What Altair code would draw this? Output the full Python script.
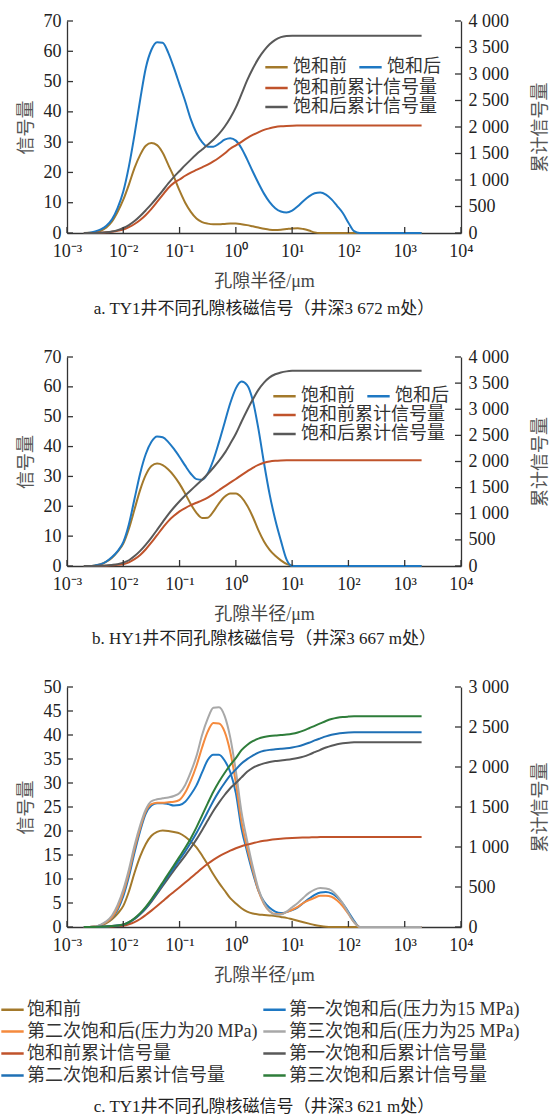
import altair as alt
import pandas as pd

# log10 of pore radius (μm) at which curves are read
LX = [-2.7, -2.6, -2.5, -2.4, -2.3, -2.2, -2.1, -2.0, -1.9, -1.8,
      -1.7, -1.6, -1.5, -1.4, -1.3, -1.2, -1.1, -1.0, -0.9, -0.8,
      -0.7, -0.6, -0.5, -0.4, -0.3, -0.2, -0.1, 0.0, 0.1, 0.2,
      0.3, 0.4, 0.5, 0.6, 0.7, 0.8, 0.9, 1.0, 1.1, 1.2,
      1.3, 1.4, 1.5, 1.6, 1.7, 1.8, 1.9, 2.0, 2.1, 2.2,
      2.3, 2.4, 3.3]

# ---- panel a ----
A_PRE = [0, 0.05, 0.2, 0.7, 1.8, 3.8, 7.0, 11.0, 16.0, 21.5,
         25.8, 28.8, 29.7, 29.0, 26.5, 22.5, 18.5, 14.0, 10.0, 7.0,
         4.8, 3.6, 3.1, 2.9, 2.9, 3.0, 3.1, 3.1, 2.9, 2.6,
         2.2, 1.8, 1.4, 1.1, 1.0, 1.1, 1.3, 1.5, 1.6, 1.3,
         0.8, 0.2, 0, 0, 0, 0, 0, 0, 0, 0,
         0, 0, 0]
A_POST = [0, 0.1, 0.5, 1.2, 2.4, 4.5, 8.3, 13.7, 22.0, 32.5,
          44.0, 54.5, 60.5, 63.0, 62.8, 59.5, 54.5, 49.0, 43.5, 37.5,
          33.0, 30.0, 28.5, 28.5, 29.5, 30.8, 31.3, 30.5, 28.0, 24.3,
          20.3, 16.5, 13.0, 10.2, 8.2, 7.1, 6.8, 7.4, 8.8, 10.6,
          12.1, 13.1, 13.4, 12.7, 11.1, 8.9, 6.6, 3.4, 0.6, 0,
          0, 0, 0]
A_PRE_CUM = [0, 0, 2, 5, 12, 25, 42, 65, 110, 170,
             245, 340, 455, 585, 720, 850, 945, 1010, 1080, 1140,
             1190, 1240, 1290, 1350, 1420, 1500, 1590, 1655, 1720, 1790,
             1850, 1900, 1945, 1975, 1998, 2012, 2020, 2025, 2027, 2028,
             2028, 2028, 2028, 2028, 2028, 2028, 2028, 2028, 2028, 2028,
             2028, 2028, 2028]
A_POST_CUM = [0, 0, 2, 6, 14, 30, 55, 95, 150, 225,
              320, 430, 545, 670, 800, 935, 1060, 1170, 1280, 1385,
              1485, 1575, 1665, 1760, 1870, 2005, 2170, 2370, 2620, 2880,
              3100, 3290, 3440, 3560, 3645, 3695, 3718, 3724, 3724, 3724,
              3724, 3724, 3724, 3724, 3724, 3724, 3724, 3724, 3724, 3724,
              3724, 3724, 3724]

# ---- panel b ----
B_PRE = [0, 0, 0.2, 0.6, 1.5, 2.8, 4.8, 7.5, 12.5, 19.0,
         25.5, 30.5, 33.5, 34.3, 33.8, 32.3, 30.2, 27.5, 24.2, 20.7,
         17.8, 16.1, 16.2, 18.2, 21.0, 23.2, 24.3, 24.3, 23.0, 20.3,
         16.5, 12.0, 8.2, 5.4, 3.4, 1.9, 0.7, 0.1, 0, 0,
         0, 0, 0, 0, 0, 0, 0, 0, 0, 0,
         0, 0, 0]
B_POST = [0, 0, 0.2, 0.6, 1.5, 3.0, 5.0, 8.0, 14.0, 22.5,
          31.0, 37.5, 41.6, 43.4, 43.1, 41.5, 39.2, 36.5, 33.6, 30.9,
          29.1, 28.9, 31.0, 35.5, 41.5, 48.0, 54.5, 59.5, 61.8, 60.6,
          55.5, 46.0, 34.5, 24.0, 15.5, 8.5, 2.2, 0, 0, 0,
          0, 0, 0, 0, 0, 0, 0, 0, 0, 0,
          0, 0, 0]
B_PRE_CUM = [0, 0, 1, 3, 7, 14, 22, 35, 70, 130,
             210, 320, 450, 590, 730, 860, 960, 1045, 1110, 1165,
             1210, 1255, 1310, 1375, 1450, 1525, 1595, 1665, 1740, 1812,
             1880, 1935, 1975, 2000, 2013, 2020, 2024, 2026, 2026, 2026,
             2026, 2026, 2026, 2026, 2026, 2026, 2026, 2026, 2026, 2026,
             2026, 2026, 2026]
B_POST_CUM = [0, 0, 1, 4, 10, 20, 35, 64, 110, 190,
              290, 410, 545, 690, 840, 990, 1120, 1240, 1350, 1450,
              1550, 1650, 1760, 1880, 2010, 2160, 2340, 2530, 2760, 2980,
              3185, 3370, 3510, 3610, 3670, 3705, 3725, 3735, 3738, 3738,
              3738, 3738, 3738, 3738, 3738, 3738, 3738, 3738, 3738, 3738,
              3738, 3738, 3738]

# ---- panel c ----
C_PRE = [0, 0, 0.1, 0.3, 0.8, 1.6, 2.8, 4.4, 7.4, 11.3,
         14.7, 17.3, 19.0, 19.8, 20.1, 20.0, 19.8, 19.5, 18.8, 17.8,
         16.6, 14.9, 13.0, 11.0, 9.2, 7.6, 6.0, 4.9, 3.9, 3.2,
         2.8, 2.6, 2.5, 2.4, 2.3, 2.1, 1.9, 1.6, 1.3, 1.0,
         0.7, 0.4, 0.2, 0.05, 0, 0, 0, 0, 0, 0,
         0, 0, 0]
C_P15 = [0, 0, 0.1, 0.4, 1.0, 1.9, 3.6, 6.4, 10.5, 15.5,
         20.0, 23.6, 25.3, 25.8, 25.8, 25.6, 25.3, 25.4, 26.1, 27.6,
         29.5, 32.2, 34.8, 35.9, 35.9, 34.7, 32.3, 27.9, 20.5, 15.7,
         11.3, 7.6, 5.3, 4.0, 3.2, 2.9, 3.1, 3.5, 4.1, 5.0,
         5.9, 6.7, 7.2, 7.3, 7.0, 6.2, 4.9, 3.1, 1.3, 0,
         0, 0, 0]
C_P20 = [0, 0, 0.1, 0.4, 1.0, 2.0, 4.0, 7.1, 11.3, 16.3,
         20.6, 24.1, 25.6, 25.9, 25.9, 26.0, 26.1, 26.5, 28.0, 30.5,
         33.6, 37.4, 40.7, 42.5, 42.4, 40.7, 36.5, 30.0, 22.0, 16.5,
         11.9, 7.6, 4.8, 3.3, 2.7, 2.7, 3.1, 3.6, 4.2, 5.0,
         5.6, 6.1, 6.5, 6.5, 6.3, 5.5, 4.3, 2.7, 1.0, 0,
         0, 0, 0]
C_P25 = [0, 0, 0.1, 0.5, 1.2, 2.4, 4.6, 7.8, 12.0, 17.0,
         21.2, 24.5, 26.2, 26.6, 26.8, 27.0, 27.3, 27.9, 29.6, 32.3,
         35.6, 40.0, 43.4, 45.7, 45.8, 44.0, 39.5, 32.5, 24.0, 18.0,
         12.6, 8.0, 5.0, 3.3, 2.6, 2.6, 3.2, 4.1, 5.0, 6.1,
         7.1, 7.8, 8.1, 8.0, 7.6, 6.5, 4.9, 2.9, 1.0, 0,
         0, 0, 0]
C_PRE_CUM = [0, 0, 0, 1, 3, 6, 11, 17, 35, 62,
             100, 150, 205, 262, 322, 383, 440, 497, 555, 615,
             675, 735, 790, 840, 882, 920, 955, 985, 1010, 1030,
             1048, 1064, 1077, 1088, 1097, 1104, 1109, 1113, 1116, 1118,
             1120, 1122, 1124, 1125, 1125, 1125, 1125, 1125, 1125, 1125,
             1125, 1125, 1125]
C_P15_CUM = [0, 0, 1, 3, 6, 11, 18, 29, 58, 100,
             158, 230, 318, 415, 515, 612, 708, 800, 893, 990,
             1095, 1210, 1330, 1450, 1555, 1650, 1735, 1800, 1870, 1940,
             1990, 2022, 2045, 2062, 2074, 2082, 2090, 2100, 2113, 2130,
             2155, 2185, 2215, 2243, 2266, 2284, 2296, 2304, 2308, 2310,
             2310, 2310, 2310]
C_P20_CUM = [0, 0, 1, 3, 6, 12, 20, 30, 60, 105,
             165, 240, 333, 433, 537, 640, 742, 843, 945, 1055,
             1175, 1305, 1440, 1575, 1695, 1800, 1895, 1970, 2045, 2098,
             2142, 2180, 2202, 2214, 2221, 2227, 2234, 2244, 2258, 2278,
             2303, 2332, 2358, 2383, 2403, 2417, 2426, 2431, 2433, 2433,
             2433, 2433, 2433]
C_P25_CUM = [0, 0, 1, 3, 6, 12, 20, 31, 62, 110,
             173, 252, 346, 450, 557, 665, 772, 880, 990, 1110,
             1245, 1395, 1545, 1690, 1815, 1925, 2025, 2110, 2210, 2275,
             2322, 2354, 2374, 2387, 2395, 2400, 2406, 2416, 2432, 2455,
             2484, 2515, 2545, 2575, 2599, 2615, 2625, 2630, 2633, 2633,
             2633, 2633, 2633]

X_TICKS = [0.001, 0.01, 0.1, 1, 10, 100, 1000, 10000]

AB_SIG_NAMES = ["饱和前", "饱和后"]
AB_CUM_NAMES = ["饱和前累计信号量", "饱和后累计信号量"]
AB_SIG_COLORS = ["#A3792B", "#1E78C3"]
AB_CUM_COLORS = ["#C0532B", "#595959"]

C_NAMES = ["饱和前", "第一次饱和后(压力为15 MPa)", "第二次饱和后(压力为20 MPa)",
           "第三次饱和后(压力为25 MPa)", "饱和前累计信号量", "第一次饱和后累计信号量",
           "第二次饱和后累计信号量", "第三次饱和后累计信号量"]
C_COLORS = ["#A3792B", "#1E78C3", "#F58A3D", "#A8A8A8",
            "#C0532B", "#595959", "#1F70B5", "#2E7D3A"]
# legend fills column by column: this order shows the entries row by row
C_LEGEND_ORDER = [0, 2, 4, 6, 1, 3, 5, 7]

FONT = "Liberation Serif, Noto Sans CJK SC"
TXT = "#222222"
TTL = "#555555"
AXC = "#333333"
W = 394

XLABEL = ("'10' + (datum.value < 1 ? '⁻' : '') + "
          "['⁰','¹','²','³','⁴'][abs(round(log(datum.value)/LN10))]")


def xscale():
    return alt.Scale(type="log", domain=[0.001, 10000], nice=False)


def long_df(names, series):
    rows = []
    for name, vals in zip(names, series):
        for e, v in zip(LX, vals):
            rows.append({"r": 10 ** e, "s": name, "v": v})
    return pd.DataFrame(rows)


def legend(x, y, direction="vertical", columns=None, size=18, rowpad=0, colpad=12,
           offset=4):
    kw = dict(orient="none", legendX=x, legendY=y, direction=direction,
              symbolType="stroke", symbolSize=500, symbolStrokeWidth=2.5,
              labelFont=FONT, labelFontSize=size, labelColor="#333333",
              labelOffset=offset, labelLimit=500, rowPadding=rowpad,
              columnPadding=colpad, padding=0)
    if columns:
        kw["columns"] = columns
    return alt.Legend(**kw)


def x_axis():
    return alt.Axis(values=X_TICKS, labelExpr=XLABEL, title="孔隙半径/μm",
                    ticks=False, grid=False, domainColor=AXC, domainWidth=1.3,
                    labelFont=FONT, labelFontSize=18, labelColor=TXT,
                    labelPadding=9, labelFlush=False, labelOverlap=False,
                    titleFont=FONT, titleFontSize=18, titleFontWeight="normal",
                    titleColor="#444444", titlePadding=12)


def left_axis(ymax, ystep):
    return alt.Axis(values=list(range(0, ymax + 1, ystep)), ticks=False, grid=False,
                    domainColor=AXC, domainWidth=1.3, labelFont=FONT,
                    labelFontSize=18, labelColor=TXT, labelPadding=6,
                    labelFlush=False, title="信号量", titleFont=FONT,
                    titleFontSize=18, titleFontWeight="normal", titleColor=TTL,
                    titlePadding=8)


def right_axis(y2max):
    return alt.Axis(orient="right", values=list(range(0, y2max + 1, 500)),
                    labelExpr="replace(format(datum.value, ','), ',', ' ')",
                    ticks=False, grid=False, domainColor=AXC, domainWidth=1.3,
                    labelFont=FONT, labelFontSize=18, labelColor=TXT,
                    labelPadding=7, labelFlush=False, title="累计信号量",
                    titleAngle=270, titleBaseline="top", titleFont=FONT,
                    titleFontSize=18, titleFontWeight="normal",
                    titleColor=TTL, titlePadding=23)


def lines(df, dom, rng, leg, ymax, xaxis, yaxis):
    xenc = alt.X("r:Q", scale=xscale(), axis=xaxis) if xaxis is not None else \
        alt.X("r:Q", scale=xscale())
    return alt.Chart(df).mark_line(strokeWidth=2, interpolate="monotone").encode(
        x=xenc,
        y=alt.Y("v:Q", scale=alt.Scale(domain=[0, ymax], nice=False), axis=yaxis),
        color=alt.Color("s:N", scale=alt.Scale(domain=dom, range=rng),
                        legend=leg, sort=dom, title=None),
    )


def tick_layers(H, ymax, ystep, y2max):
    xt = alt.Chart(pd.DataFrame({"t": X_TICKS})).mark_rule(color=AXC, strokeWidth=1.3).encode(
        x=alt.X("t:Q", scale=xscale()), y=alt.value(H), y2=alt.value(H - 6))
    ylt = alt.Chart(pd.DataFrame({"t": list(range(0, ymax + 1, ystep))})).mark_rule(
        color=AXC, strokeWidth=1.3).encode(
        y=alt.Y("t:Q", scale=alt.Scale(domain=[0, ymax], nice=False), axis=None),
        x=alt.value(0), x2=alt.value(6))
    yrt = alt.Chart(pd.DataFrame({"t": list(range(0, y2max + 1, 500))})).mark_rule(
        color=AXC, strokeWidth=1.3).encode(
        y=alt.Y("t:Q", scale=alt.Scale(domain=[0, y2max], nice=False), axis=None),
        x=alt.value(W - 6), x2=alt.value(W))
    return [xt, ylt, yrt]


def caption(text, offset):
    return alt.TitleParams(text=text, orient="bottom", anchor="middle",
                           frame="group", font=FONT, fontSize=17,
                           fontWeight="normal", color=TXT, offset=offset)


def panel_ab(H, pre, post, pre_cum, post_cum, lx, ly, cap, cap_off):
    # ly: legend top offsets of the three legend rows
    sig = lines(long_df(AB_SIG_NAMES, [pre, post]), AB_SIG_NAMES, AB_SIG_COLORS,
                legend(lx, ly[0], "horizontal", colpad=7), 70,
                x_axis(), left_axis(70, 10))
    c1 = lines(long_df(AB_CUM_NAMES[:1], [pre_cum]), AB_CUM_NAMES[:1], AB_CUM_COLORS[:1],
               legend(lx, ly[1]), 4000, None, right_axis(4000))
    c2 = lines(long_df(AB_CUM_NAMES[1:], [post_cum]), AB_CUM_NAMES[1:], AB_CUM_COLORS[1:],
               legend(lx, ly[2]), 4000, None, None)
    return alt.layer(sig, c1, c2, *tick_layers(H, 70, 10, 4000)).resolve_scale(
        y="independent", color="independent").properties(
        width=W, height=H, title=caption(cap, cap_off))


pa = panel_ab(212, A_PRE, A_POST, A_PRE_CUM, A_POST_CUM, 197, [33.5, 54.5, 73.5],
              "a. TY1井不同孔隙核磁信号（井深3 672 m处）", 11)
pb = panel_ab(209, B_PRE, B_POST, B_PRE_CUM, B_POST_CUM, 205, [26.5, 45.5, 64.5],
              "b. HY1井不同孔隙核磁信号（井深3 667 m处）", 8)

c_dom = [C_NAMES[i] for i in C_LEGEND_ORDER]
c_rng = [C_COLORS[i] for i in C_LEGEND_ORDER]
c_leg = legend(-67, 310, "vertical", columns=2, size=18, rowpad=0, colpad=0, offset=2)
c_sig = lines(long_df(C_NAMES[:4], [C_PRE, C_P15, C_P20, C_P25]), c_dom, c_rng, c_leg, 50,
              x_axis(), left_axis(50, 5))
c_cum = lines(long_df(C_NAMES[4:], [C_PRE_CUM, C_P15_CUM, C_P20_CUM, C_P25_CUM]),
              c_dom, c_rng, c_leg, 3000, None, right_axis(3000))
pc = alt.layer(c_sig, c_cum, *tick_layers(240, 50, 5, 3000)).resolve_scale(
    y="independent", color="shared").properties(
    width=W, height=240, title=caption("c. TY1井不同孔隙核磁信号（井深3 621 m处）", 14))

chart = alt.vconcat(pa, pb, pc, spacing=31).resolve_scale(color="independent").properties(
    padding={"left": 0, "top": 12, "right": 0, "bottom": 0},
    background="white",
).configure_view(stroke=None)

chart.save("out.html", embed_options={"renderer": "svg", "actions": False})
